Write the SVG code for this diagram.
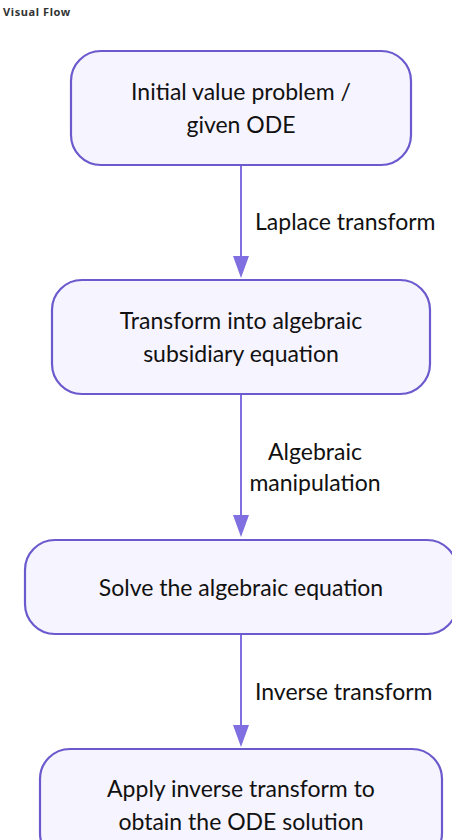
<svg xmlns="http://www.w3.org/2000/svg" width="452" height="840" viewBox="0 0 452 840">
<defs>
<style>
.node rect{fill:#f6f4ff;stroke:#6a5acd;stroke-width:2.2}
.t{font-family:Lato,"Noto Sans",sans-serif;font-size:23px;fill:#111;text-anchor:middle}
.lbl{font-family:Lato,"Noto Sans",sans-serif;font-size:23px;fill:#111}
.edge{stroke:#7f6fe0;stroke-width:2;fill:none}
.title{font-family:"Noto Sans","DejaVu Sans",sans-serif;font-size:11px;letter-spacing:0.6px;font-weight:bold;fill:#333}
</style>
</defs>
<rect width="452" height="840" fill="#fff"/>
<text class="title" x="3" y="16">Visual Flow</text>
<g id="connectors">
<line class="edge" x1="241" y1="166" x2="241" y2="256"/>
<path d="M233,256 L249,256 L241,278 Z" fill="#7f6fe0"/>
<text class="lbl" x="255" y="230">Laplace transform</text>
<line class="edge" x1="241" y1="394" x2="241" y2="515"/>
<path d="M233,515 L249,515 L241,537 Z" fill="#7f6fe0"/>
<text class="lbl" x="315" y="460" text-anchor="middle">Algebraic</text>
<text class="lbl" x="315" y="491" text-anchor="middle">manipulation</text>
<line class="edge" x1="241" y1="634" x2="241" y2="725"/>
<path d="M233,725 L249,725 L241,747 Z" fill="#7f6fe0"/>
<text class="lbl" x="255" y="700">Inverse transform</text>
</g>
<g id="n1" class="node">
<rect x="71" y="51" width="340" height="114" rx="30"/>
<text class="t" x="241" y="100">Initial value problem /</text>
<text class="t" x="241" y="133">given ODE</text>
</g>
<g id="n2" class="node">
<rect x="52" y="280" width="378" height="114" rx="30"/>
<text class="t" x="241" y="329">Transform into algebraic</text>
<text class="t" x="241" y="362">subsidiary equation</text>
</g>
<g id="n3" class="node">
<rect x="25" y="540" width="432" height="94" rx="30"/>
<text class="t" x="241" y="596">Solve the algebraic equation</text>
</g>
<g id="n4" class="node">
<rect x="40" y="749" width="402" height="114" rx="30"/>
<text class="t" x="241" y="797">Apply inverse transform to</text>
<text class="t" x="241" y="830">obtain the ODE solution</text>
</g>
</svg>
